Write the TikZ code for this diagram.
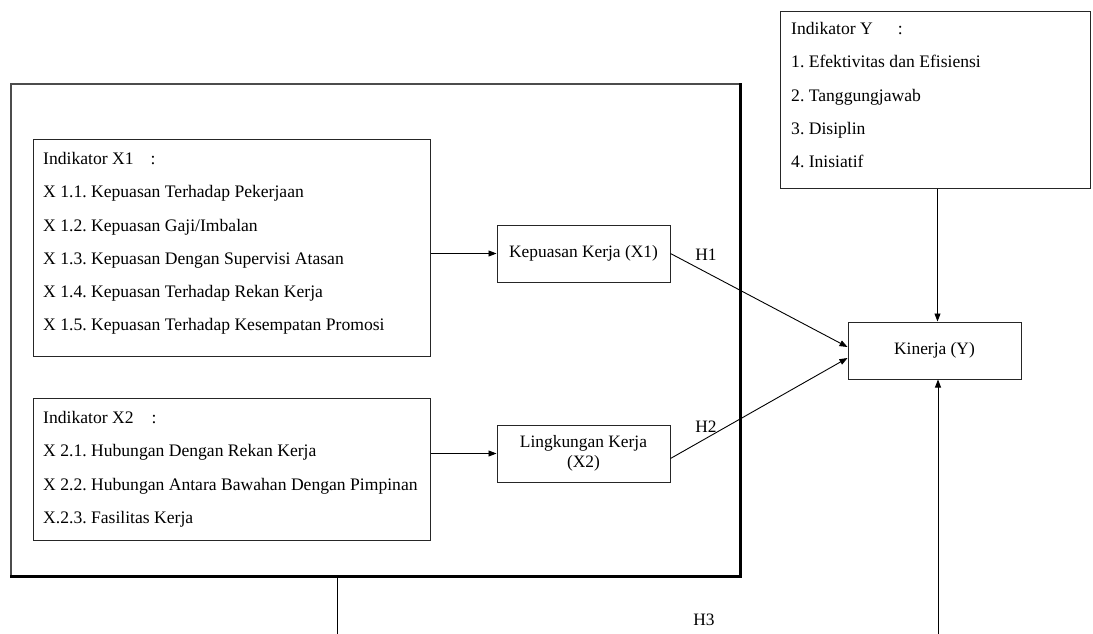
\documentclass[tikz,border=0pt]{standalone}
\usepackage{fontspec}
\setmainfont{Liberation Serif}
\usetikzlibrary{arrows.meta}
\frenchspacing

\tikzset{
  varbox/.style={draw=black!85, line width=1pt, inner sep=0pt, align=center,
    minimum width=173pt, minimum height=57pt},
  indbox/.style={draw=black!85, line width=1pt, inner sep=0pt},
  indtext/.style={anchor=north west, align=left, inner sep=0pt,
    font=\fontsize{17.6}{33.3}\selectfont},
  link/.style={line width=0.9pt, -{Triangle[length=8pt,width=6pt]}},
  hlabel/.style={inner sep=0pt}
}

\begin{document}
\begin{tikzpicture}[x=1pt, y=-1pt, font=\fontsize{17.4}{20}\selectfont]
  \useasboundingbox (0,0) rectangle (1093,634);

  % Outer frame with heavy right and bottom edge
  \node[draw=black!70, line width=1.3pt, minimum width=729pt, minimum height=492pt] (frame) at (375.5,330) {};
  \draw[line width=2.6pt] (frame.north east) -- (frame.south east) -- (frame.south west);

  % Indicator boxes
  \node[indbox, minimum width=397pt, minimum height=217pt] (ind1) at (231.5,247.5) {};
  \node[indtext] (ind1txt) at (43,152) {Indikator X1\hspace{17pt}:\\
    X 1.1. Kepuasan Terhadap Pekerjaan\\
    X 1.2. Kepuasan Gaji/Imbalan\\
    X 1.3. Kepuasan Dengan Supervisi Atasan\\
    X 1.4. Kepuasan Terhadap Rekan Kerja\\
    X 1.5. Kepuasan Terhadap Kesempatan Promosi};

  \node[indbox, minimum width=397pt, minimum height=142pt] (ind2) at (231.5,469) {};
  \node[indtext] (ind2txt) at (43,411) {Indikator X2\hspace{18pt}:\\
    X 2.1. Hubungan Dengan Rekan Kerja\\
    X 2.2. Hubungan Antara Bawahan Dengan Pimpinan\\
    X.2.3. Fasilitas Kerja};

  \node[indbox, minimum width=310pt, minimum height=176pt] (indy) at (935,100) {};
  \node[indtext] (indytxt) at (791,22) {Indikator Y\hspace{25pt}:\\
    1. Efektivitas dan Efisiensi\\
    2. Tanggungjawab\\
    3. Disiplin\\
    4. Inisiatif};

  % Variable boxes
  \node[varbox] (kep) at (583.5,253.5) {Kepuasan Kerja (X1)};
  \node[varbox] (ling) at (583.5,453.5) {Lingkungan Kerja\\(X2)};
  \node[varbox] (kin) at (934.5,350.5) {Kinerja (Y)};

  % Connectors
  \draw[link] (kep.west -| ind1.east) -- (kep.west);
  \draw[link] (ling.west -| ind2.east) -- (ling.west);
  \draw[link] (kep.east) -- ([yshift=3.5pt]kin.west);
  \draw[link] ([yshift=-5pt]ling.east) -- ([yshift=-7.5pt]kin.west);
  \draw[link] ([xshift=3pt]indy.south -| kin.north) -- ([xshift=3pt]kin.north);

  \coordinate (h3start) at (337,634);
  \coordinate (h3end) at (938,634);
  \draw[line width=0.9pt] (frame.south -| h3start) -- (h3start);
  \draw[link] (h3end) -- (kin.south -| h3end);

  % Hypothesis labels
  \node[hlabel] (h1) at (706,255) {H1};
  \node[hlabel] (h2) at (706,427) {H2};
  \node[hlabel] (h3) at (704,620) {H3};
\end{tikzpicture}
\end{document}
